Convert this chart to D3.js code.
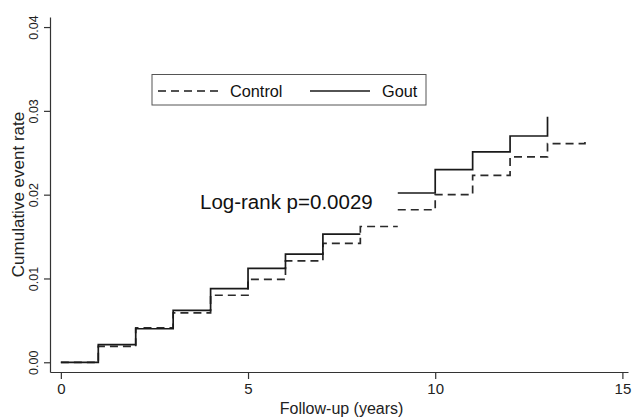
<!DOCTYPE html>
<html>
<head>
<meta charset="utf-8">
<script src="https://cdn.jsdelivr.net/npm/d3@7"></script>
<style>
  body { margin: 0; background: #fff; }
  svg { display: block; font-family: "Liberation Sans", Arial, sans-serif; }
</style>
</head>
<body>
<div id="chart"></div>
<script>
// tick labels
const xTicks = [0, 5, 10, 15];
const yTicks = [0, 0.01, 0.02, 0.03, 0.04];

// cumulative event rate for each yearly interval [i, i+1); null = not drawn
const goutLevels = [0, 0.0021, 0.0040, 0.0062, 0.0088, 0.0112, 0.0129, 0.0153, null, 0.0202, 0.0230, 0.0251, 0.0270];
const goutFinal = 0.0293;   // last jump, at year 13
const controlLevels = [0, 0.0019, 0.0041, 0.0059, 0.0080, 0.0099, 0.0121, 0.0142, 0.0162, 0.0182, 0.0200, 0.0223, 0.0245, 0.0261];
const controlFinal = 0.0264; // last jump, at year 14
const breakYears = [9];      // curves are not joined at these years

const width = 633, height = 418;

const svg = d3.select('#chart').append('svg')
    .attr('width', width)
    .attr('height', height);

// scales (domain padded a bit like Stata does)
const x = d3.scaleLinear().domain([-0.29, 15.15]).range([50, 628]);
const y = d3.scaleLinear().domain([-0.00116, 0.0412]).range([372, 17]);

// y axis, labels turned vertical
const yAxis = svg.append('g')
    .attr('transform', 'translate(50,0)')
    .call(d3.axisLeft(y).tickValues(yTicks).tickSize(6).tickSizeOuter(0).tickFormat(d3.format('.2f')));
yAxis.selectAll('.tick text')
    .attr('x', 0).attr('y', 0).attr('dy', 0)
    .attr('transform', 'translate(-12,0) rotate(-90)')
    .attr('text-anchor', 'middle')
    .style('font-size', '12.5px')
    .attr('fill', '#222');

// x axis
const xAxis = svg.append('g')
    .attr('transform', 'translate(0,372)')
    .call(d3.axisBottom(x).tickValues(xTicks).tickSize(7).tickSizeOuter(0).tickPadding(4));
xAxis.selectAll('text')
    .style('font-size', '15px')
    .attr('fill', '#222');

svg.selectAll('.domain, .tick line').attr('stroke', '#333').attr('stroke-width', 1.2);

// axis titles
svg.append('text')
    .attr('transform', `translate(24,${(17 + 372) / 2}) rotate(-90)`)
    .attr('text-anchor', 'middle')
    .style('font-size', '17px')
    .attr('fill', '#222')
    .text('Cumulative event rate');

svg.append('text')
    .attr('x', x(7.5))
    .attr('y', 414)
    .attr('text-anchor', 'middle')
    .style('font-size', '16px')
    .attr('fill', '#222')
    .text('Follow-up (years)');

// build step points, with null where the curve is broken
function stepPoints(levels, last) {
    const pts = [];
    levels.forEach((v, i) => {
        if (v == null) { pts.push(null); return; }
        if (breakYears.includes(i)) pts.push(null);
        pts.push([i, v], [i + 1, v]);
    });
    pts.push([levels.length, last]);
    return pts;
}

const line = d3.line()
    .defined(d => d != null)
    .x(d => x(d[0]))
    .y(d => y(d[1]));

svg.append('path')
    .attr('d', line(stepPoints(controlLevels, controlFinal)))
    .attr('fill', 'none')
    .attr('stroke', '#2a2a2a')
    .attr('stroke-width', 1.7)
    .attr('stroke-dasharray', '8,5');

svg.append('path')
    .attr('d', line(stepPoints(goutLevels, goutFinal)))
    .attr('fill', 'none')
    .attr('stroke', '#1a1a1a')
    .attr('stroke-width', 1.7);

// p-value note
svg.append('text')
    .attr('x', 200)
    .attr('y', 209)
    .style('font-size', '20.5px')
    .attr('fill', '#111')
    .text('Log-rank p=0.0029');

// legend
const legend = svg.append('g');
legend.append('rect')
    .attr('x', 152).attr('y', 74.5)
    .attr('width', 274).attr('height', 30.5)
    .attr('fill', '#fff')
    .attr('stroke', '#555')
    .attr('stroke-width', 1);

const legendItems = [
    { name: 'Control', dash: '8,5', x0: 158, x1: 220, tx: 230 },
    { name: 'Gout', dash: null, x0: 310, x1: 370, tx: 382 }
];
legendItems.forEach(item => {
    legend.append('line')
        .attr('x1', item.x0).attr('x2', item.x1)
        .attr('y1', 91).attr('y2', 91)
        .attr('stroke', '#1a1a1a')
        .attr('stroke-width', 1.7)
        .attr('stroke-dasharray', item.dash);
    legend.append('text')
        .attr('x', item.tx).attr('y', 97)
        .style('font-size', '16.3px')
        .attr('fill', '#111')
        .text(item.name);
});
</script>
</body>
</html>
